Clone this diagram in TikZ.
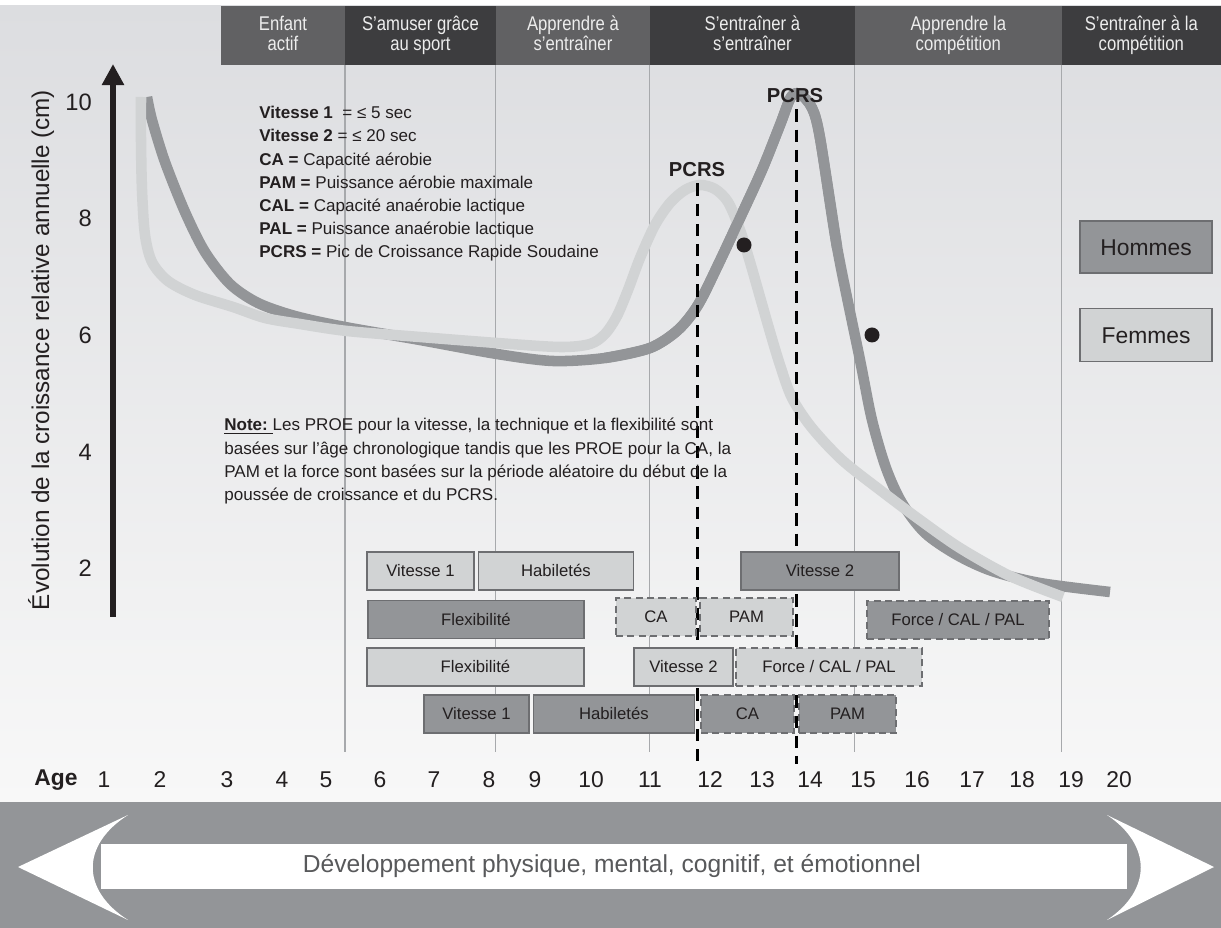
\documentclass[tikz,border=0pt]{standalone}
\usepackage{fontspec}
\setmainfont{Liberation Sans}
\usetikzlibrary{positioning}
\usetikzlibrary{arrows.meta}

\definecolor{bgtop}{HTML}{DCDDE0}
\definecolor{bgbot}{HTML}{F8F8F8}
\definecolor{phasedark}{HTML}{3D3D3F}
\definecolor{phasemid}{HTML}{616163}
\definecolor{mengrey}{HTML}{939598}
\definecolor{womengrey}{HTML}{D1D3D4}
\definecolor{boxline}{HTML}{6D6E71}
\definecolor{gridgrey}{HTML}{A7A9AC}
\definecolor{ink}{HTML}{231F20}
\definecolor{bandtext}{HTML}{58595B}

\newcommand{\narrowtext}[1]{\scalebox{0.84}[1]{#1}}

\tikzstyle{phase} = [rectangle, minimum height=1.18cm, inner sep=0pt, outer sep=0pt, text=white!93!black, align=center, text height=19.8pt, text depth=3pt, font=\fontsize{11.3}{11.3}\selectfont]
\tikzstyle{barbox} = [rectangle, minimum height=0.76cm, inner sep=0pt, text=ink, text height=8.6pt, text depth=2pt, font=\fontsize{9.5}{11}\selectfont]
\tikzstyle{darkbar} = [barbox, fill=mengrey, draw=boxline, line width=0.8pt]
\tikzstyle{lightbar} = [barbox, fill=womengrey, draw=boxline, line width=0.8pt]
\tikzstyle{darkdash} = [barbox, fill=mengrey, draw=boxline, line width=1.4pt, dash pattern=on 4pt off 2.5pt]
\tikzstyle{lightdash} = [barbox, fill=womengrey, draw=boxline, line width=1.4pt, dash pattern=on 4pt off 2.5pt]
\tikzstyle{growth} = [line width=6pt, line join=round]
\tikzstyle{pcrsline} = [black, line width=1.7pt, dash pattern=on 7pt off 4.5pt]
\tikzstyle{gridline} = [gridgrey, line width=0.6pt]
\tikzstyle{scalenum} = [anchor=east, text=ink, font=\fontsize{13.5}{15}\selectfont]
\tikzstyle{agenum} = [text=ink, font=\fontsize{13}{15}\selectfont]
\tikzstyle{pcrs} = [text=ink, font=\bfseries\fontsize{11.5}{13}\selectfont]
\tikzstyle{smalltext} = [anchor=north west, inner sep=0pt, align=left, text=ink, font=\fontsize{9.7}{13.2}\selectfont]

\begin{document}
\begin{tikzpicture}[x=0.02cm, y=-0.02cm]

\fill[white] (0,0) rectangle (1221,928);
\useasboundingbox (0,0) rectangle (1221,928);
\shade[top color=bgtop, bottom color=bgbot] (0,6) rectangle (1221,802);

% stades
\node (enfant) [phase, fill=phasemid, minimum width=2.48cm, anchor=north west] at (221,6) {\narrowtext{Enfant}\\\narrowtext{actif}};
\node (amuser) [phase, fill=phasedark, minimum width=3.02cm, right=0pt of enfant] {\narrowtext{S’amuser grâce}\\\narrowtext{au sport}};
\node (apprendre) [phase, fill=phasemid, minimum width=3.08cm, right=0pt of amuser] {\narrowtext{Apprendre à}\\\narrowtext{s’entraîner}};
\node (entrainer) [phase, fill=phasedark, minimum width=4.10cm, right=0pt of apprendre] {\narrowtext{S’entraîner à}\\\narrowtext{s’entraîner}};
\node (competition) [phase, fill=phasemid, minimum width=4.14cm, right=0pt of entrainer] {\narrowtext{Apprendre la}\\\narrowtext{compétition}};
\node (gagner) [phase, fill=phasedark, minimum width=3.18cm, right=0pt of competition] {\narrowtext{S’entraîner à la}\\\narrowtext{compétition}};

\coordinate (gridfoot) at (0,752);
\foreach \ph in {amuser,apprendre,entrainer,competition,gagner}
  \draw[gridline] (\ph.south west) -- (\ph.south west |- gridfoot);

% axe
\coordinate (ybase) at (113,617);
\coordinate (ytop) at (113,64);
\draw[ink, line width=3.4pt, -{Triangle[width=12pt,length=12pt]}] (ybase) -- (ytop);
\foreach \v/\py in {10/102, 8/218, 6/335, 4/452, 2/568}
  \node (tick\v) [scalenum] at (98,\py) {\v};
\node (ytitle) [rotate=90, text=ink, font=\fontsize{13.8}{15}\selectfont] at (41,350) {Évolution de la croissance relative annuelle (cm)};

% courbes
\draw[growth, mengrey] plot[smooth] coordinates {(147,97) (152,120) (165,162) (185,212) (205,252) (230,284) (258,303) (295,316) (345,327) (420,340) (497,354) (553,361) (605,358) (650,348) (678,330) (698,305) (718,265) (740,218) (762,170) (780,125) (791,97) (800,94) (812,108) (820,138) (837,247) (860,360) (872,420) (886,468) (902,503) (925,533) (957,555) (992,571) (1040,583) (1110,592)};
\draw[growth, womengrey] plot[smooth] coordinates {(141,97) (141,140) (142,190) (145,235) (152,262) (168,281) (195,295) (233,307) (265,318) (300,324) (347,331) (420,337) (497,343) (560,347) (590,344) (605,334) (617,316) (628,290) (640,258) (655,225) (670,203) (685,190) (700,185) (715,189) (728,202) (740,230) (750,262) (760,297) (770,332) (780,365) (792,398) (812,428) (842,460) (880,490) (920,520) (960,548) (1010,576) (1063,597)};
\draw[growth, mengrey] plot[smooth] coordinates {(605,358) (650,348) (678,330) (698,305) (718,265) (740,218) (762,170) (780,125) (791,97) (800,94) (812,108) (820,138) (837,247)};

% PCRS
\node (pcrsf) [pcrs] at (697,170) {PCRS};
\node (pcrsh) [pcrs] at (795,96) {PCRS};
\coordinate (pcrsfend) at (697,764);
\coordinate (pcrshend) at (796,764);
\draw[pcrsline] (pcrsf.south) -- (pcrsfend);
\draw[pcrsline] (pcrsh.south -| pcrshend) -- (pcrshend);

\node (dotf) [circle, fill=ink, minimum size=0.3cm, inner sep=0pt] at (744,245) {};
\node (doth) [circle, fill=ink, minimum size=0.3cm, inner sep=0pt] at (872,335) {};

% textes
\node (abbrev) [smalltext] at (259,106) {\textbf{Vitesse 1}\ \ = ≤ 5 sec\\
\textbf{Vitesse 2} = ≤ 20 sec\\
\textbf{CA =} Capacité aérobie\\
\textbf{PAM =} Puissance aérobie maximale\\
\textbf{CAL =} Capacité anaérobie lactique\\
\textbf{PAL =} Puissance anaérobie lactique\\
\textbf{PCRS =} Pic de Croissance Rapide Soudaine};

\node (note) [smalltext] at (224,418) {\underline{\textbf{Note:}\ }Les PROE pour la vitesse, la technique et la flexibilité sont\\
basées sur l’âge chronologique tandis que les PROE pour la CA, la\\
PAM et la force sont basées sur la période aléatoire du début de la\\
poussée de croissance et du PCRS.};

\node (hommes) [darkbar, minimum width=2.64cm, minimum height=1.04cm, text height=11.3pt, font=\fontsize{13}{15}\selectfont] at (1146,247) {Hommes};
\node (femmes) [lightbar, minimum width=2.64cm, minimum height=1.06cm, text height=11.3pt, font=\fontsize{13}{15}\selectfont, below=0.68cm of hommes] {Femmes};

% periodes
\node (v1f) [lightbar, minimum width=2.14cm] at (420.5,571) {Vitesse 1};
\node (habf) [lightbar, minimum width=3.10cm, right=0.06cm of v1f] {Habiletés};
\node (v2h) [darkbar, minimum width=3.16cm] at (820,571) {Vitesse 2};

\node (flexh) [darkbar, minimum width=4.32cm] at (476,619.5) {Flexibilité};
\node (caf) [lightdash, minimum width=1.60cm] at (656,617) {CA};
\node (pamf) [lightdash, minimum width=1.86cm] at (746.5,617) {PAM};
\node (forceh) [darkdash, minimum width=3.64cm] at (958,620) {Force / CAL / PAL};

\node (flexf) [lightbar, minimum width=4.34cm] at (475.5,667) {Flexibilité};
\node (v2f) [lightbar, minimum width=1.98cm] at (683.5,667) {Vitesse 2};
\node (forcef) [lightdash, minimum width=3.72cm] at (829,667) {Force / CAL / PAL};

\node (v1h) [darkbar, minimum width=2.10cm] at (476.5,714) {Vitesse 1};
\node (habh) [darkbar, minimum width=3.22cm, right=0.06cm of v1h] {Habiletés};
\node (cah) [darkdash, minimum width=1.86cm] at (747.5,714) {CA};
\node (pamh) [darkdash, minimum width=1.94cm] at (847.5,714) {PAM};

% ages
\node (agelabel) [agenum, font=\bfseries\fontsize{13}{15}\selectfont] at (56,780) {Age};
\foreach \n/\ax in {1/104, 2/160, 3/227, 4/282, 5/326, 6/380, 7/434, 8/489, 9/535, 10/591, 11/650, 12/710, 13/762, 14/810, 15/863, 16/917, 17/972, 18/1022, 19/1071, 20/1119}
  \node (age\n) [agenum] at (\ax,780) {\n};

% developpement
\fill[mengrey] (0,802) rectangle (1221,928);
\fill[white] (101,844) rectangle (1127,889);
\fill[white] (18,867) -- (128,815) .. controls (81,845) and (81,890) .. (128,920) -- cycle;
\fill[white] (1214,867) -- (1107,920) .. controls (1152,890) and (1152,845) .. (1107,815) -- cycle;
\node (devtext) [text=bandtext, font=\fontsize{14}{16}\selectfont] at (612,866) {Développement physique, mental, cognitif, et émotionnel};

\end{tikzpicture}
\end{document}
